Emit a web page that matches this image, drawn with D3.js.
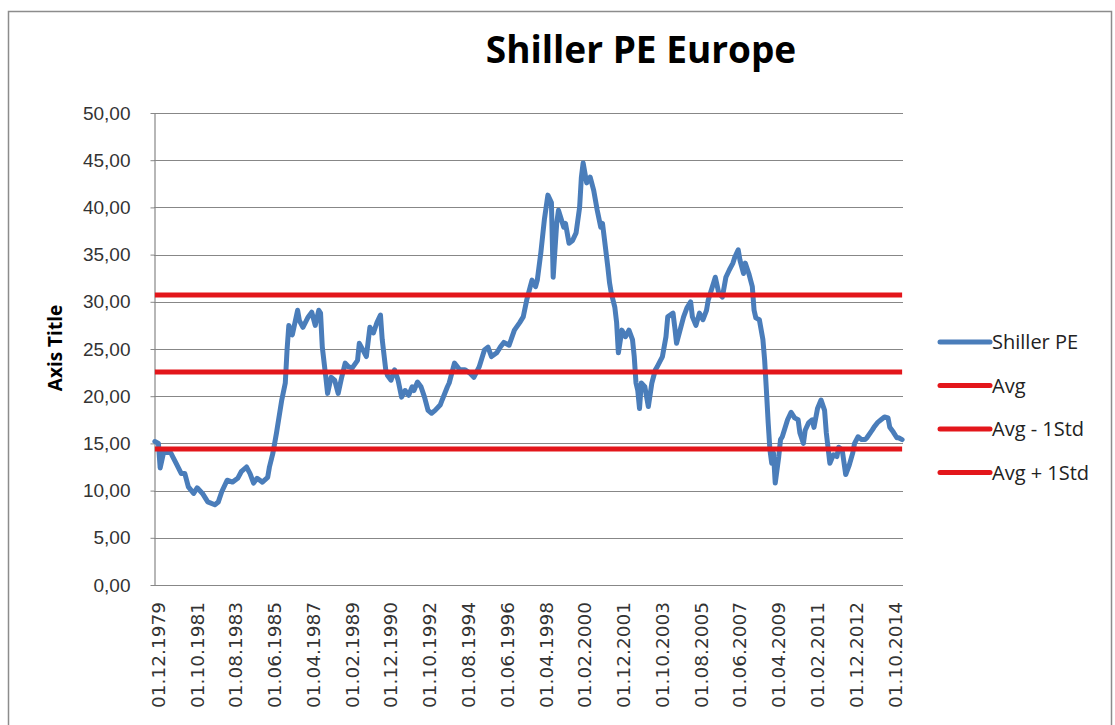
<!DOCTYPE html>
<html>

<head>
  <title>Shiller PE Europe</title>
  <script src="https://cdn.jsdelivr.net/npm/d3@7"></script>
  <style>
    body { margin: 0; background: #fff; }
    svg { display: block; }
  </style>
</head>

<body>
  <svg id="chart"></svg>

  <script>
    // Monthly readings of the Shiller PE (month.year)
    const dates = [
      "12.1979", "02.1980", "03.1980", "05.1980", "09.1980", "12.1980", "03.1981", "05.1981", "07.1981", "10.1981",
      "12.1981", "03.1982", "06.1982", "10.1982", "12.1982", "02.1983", "05.1983", "08.1983", "11.1983", "01.1984",
      "04.1984", "06.1984", "08.1984", "10.1984", "01.1985", "04.1985", "05.1985", "07.1985", "09.1985", "12.1985",
      "02.1986", "03.1986", "04.1986", "06.1986", "09.1986", "10.1986", "12.1986", "03.1987", "05.1987", "07.1987",
      "09.1987", "10.1987", "11.1987", "01.1988", "02.1988", "04.1988", "06.1988", "08.1988", "10.1988", "12.1988",
      "02.1989", "04.1989", "07.1989", "08.1989", "10.1989", "12.1989", "02.1990", "04.1990", "06.1990", "08.1990",
      "09.1990", "11.1990", "12.1990", "02.1991", "04.1991", "06.1991", "08.1991", "10.1991", "12.1991", "02.1992",
      "03.1992", "05.1992", "07.1992", "09.1992", "11.1992", "01.1993", "03.1993", "06.1993", "07.1993", "10.1993",
      "11.1993", "02.1994", "05.1994", "08.1994", "11.1994", "01.1995", "04.1995", "07.1995", "09.1995", "11.1995",
      "02.1996", "04.1996", "06.1996", "09.1996", "12.1996", "03.1997", "05.1997", "07.1997", "09.1997", "10.1997",
      "12.1997", "01.1998", "03.1998", "05.1998", "07.1998", "09.1998", "10.1998", "12.1998", "01.1999", "04.1999",
      "05.1999", "07.1999", "09.1999", "11.1999", "01.2000", "02.2000", "03.2000", "05.2000", "07.2000", "09.2000",
      "11.2000", "01.2001", "02.2001", "05.2001", "06.2001", "07.2001", "09.2001", "10.2001", "11.2001", "01.2002",
      "03.2002", "05.2002", "07.2002", "08.2002", "09.2002", "10.2002", "11.2002", "12.2002", "02.2003", "04.2003",
      "06.2003", "08.2003", "09.2003", "12.2003", "02.2004", "03.2004", "06.2004", "07.2004", "08.2004", "10.2004",
      "12.2004", "02.2005", "04.2005", "05.2005", "07.2005", "09.2005", "11.2005", "01.2006", "02.2006", "05.2006",
      "06.2006", "08.2006", "10.2006", "12.2006", "02.2007", "04.2007", "05.2007", "07.2007", "08.2007", "10.2007",
      "11.2007", "01.2008", "03.2008", "04.2008", "05.2008", "07.2008", "09.2008", "10.2008", "11.2008", "12.2008",
      "01.2009", "02.2009", "03.2009", "04.2009", "06.2009", "07.2009", "08.2009", "11.2009", "01.2010", "03.2010",
      "05.2010", "06.2010", "08.2010", "09.2010", "11.2010", "01.2011", "02.2011", "04.2011", "06.2011", "08.2011",
      "09.2011", "11.2011", "01.2012", "03.2012", "04.2012", "06.2012", "08.2012", "10.2012", "12.2012", "01.2013",
      "03.2013", "05.2013", "07.2013", "08.2013", "11.2013", "12.2013", "02.2014", "04.2014", "06.2014", "08.2014",
      "09.2014", "11.2014", "01.2015", "02.2015", "04.2015"
    ];

    const pe = [
      15.2, 15.0, 12.4, 14.1, 14.0, 12.9, 11.8, 11.8, 10.4, 9.7,
      10.3, 9.7, 8.8, 8.5, 8.8, 9.9, 11.1, 10.9, 11.3, 12.0,
      12.5, 11.8, 10.8, 11.3, 10.9, 11.4, 12.5, 14.0, 16.1, 19.6,
      21.4, 24.9, 27.5, 26.5, 29.1, 28.0, 27.3, 28.4, 28.9, 27.5,
      29.1, 28.8, 25.2, 22.0, 20.3, 22.0, 21.7, 20.3, 22.0, 23.5,
      23.1, 23.0, 23.8, 25.6, 24.9, 24.2, 27.3, 26.7, 27.8, 28.6,
      26.0, 22.8, 22.2, 21.7, 22.8, 21.7, 19.9, 20.6, 20.1, 21.0,
      20.6, 21.5, 21.0, 19.9, 18.5, 18.2, 18.5, 19.1, 19.6, 21.0,
      21.4, 23.5, 22.8, 22.8, 22.4, 22.0, 23.1, 24.9, 25.2, 24.2,
      24.6, 25.2, 25.7, 25.4, 27.0, 27.8, 28.4, 30.2, 31.6, 32.3,
      31.6, 32.3, 35.2, 38.7, 41.3, 40.5, 32.6, 38.3, 39.7, 37.9,
      38.3, 36.2, 36.5, 37.3, 40.0, 43.2, 44.7, 42.6, 43.2, 41.8,
      39.7, 37.9, 38.3, 33.7, 32.0, 30.9, 29.4, 27.8, 24.6, 27.0,
      26.3, 27.0, 26.0, 24.2, 21.4, 20.6, 18.7, 21.4, 21.0, 18.9,
      21.4, 22.8, 23.1, 24.2, 26.3, 28.4, 28.8, 27.3, 25.6, 27.0,
      28.4, 29.4, 30.0, 28.4, 27.5, 28.8, 28.1, 29.1, 30.2, 32.0,
      32.6, 30.9, 30.5, 32.6, 33.4, 34.1, 34.7, 35.5, 34.4, 33.0,
      34.1, 33.0, 31.6, 29.1, 28.3, 28.1, 26.0, 23.8, 20.6, 17.2,
      14.3, 12.9, 14.0, 10.8, 13.6, 15.4, 15.7, 17.5, 18.3, 17.7,
      17.5, 16.1, 15.0, 16.4, 17.2, 17.5, 16.7, 18.7, 19.6, 18.5,
      16.1, 12.9, 13.8, 13.6, 14.6, 14.3, 11.7, 12.7, 14.0, 15.0,
      15.7, 15.4, 15.4, 15.6, 16.4, 16.7, 17.2, 17.5, 17.8, 17.7,
      16.7, 16.2, 15.6, 15.6, 15.4
    ];

    // Horizontal reference levels
    const levelNames = ["Avg", "Avg - 1Std", "Avg + 1Std"];
    const levelValues = [22.56, 14.41, 30.72];

    // Category labels shown on the x axis
    const xLabels = [
      "01.12.1979", "01.10.1981", "01.08.1983", "01.06.1985", "01.04.1987",
      "01.02.1989", "01.12.1990", "01.10.1992", "01.08.1994", "01.06.1996",
      "01.04.1998", "01.02.2000", "01.12.2001", "01.10.2003", "01.08.2005",
      "01.06.2007", "01.04.2009", "01.02.2011", "01.12.2012", "01.10.2014"
    ];

    const yTicks = [0, 5, 10, 15, 20, 25, 30, 35, 40, 45, 50];

    const width = 1115;
    const height = 725;
    const plot = { left: 154, right: 903, top: 113, bottom: 585 };

    const blue = "#4a7dba";
    const red = "#e3161b";
    const grid = "#878787";

    // months since 12.1979
    const monthIndex = s => {
      const p = s.split(".").map(Number);
      const m = p.length === 3 ? p[1] : p[0];
      const y = p.length === 3 ? p[2] : p[1];
      return (y - 1979) * 12 + m - 12;
    };

    const data = dates.map((d, i) => ({ i: monthIndex(d), v: pe[i] }));
    const nMonths = d3.max(data, d => d.i) + 1;

    const x = d3.scaleLinear().domain([0, nMonths]).range([plot.left, plot.right]);
    const y = d3.scaleLinear().domain([0, 50]).range([plot.bottom, plot.top]);

    const fmt = d3.formatLocale({ decimal: ",", thousands: ".", grouping: [3], currency: ["", ""] }).format(".2f");

    const svg = d3.select("#chart")
      .attr("width", width)
      .attr("height", height)
      .style("font-family", "'DejaVu Sans', sans-serif");

    // chart frame
    svg.append("rect")
      .attr("x", 8.5).attr("y", 11.5)
      .attr("width", 1103).attr("height", 730)
      .attr("fill", "#fff")
      .attr("stroke", "#8c8c8c")
      .attr("stroke-width", 1.5);

    // title
    svg.append("text")
      .attr("x", 641).attr("y", 63)
      .attr("text-anchor", "middle")
      .style("font-family", "'Open Sans', sans-serif")
      .style("font-weight", "bold")
      .style("font-size", "37px")
      .attr("fill", "#000")
      .text("Shiller PE Europe");

    // gridlines
    svg.append("g")
      .selectAll("line")
      .data(yTicks.slice(1))
      .join("line")
      .attr("x1", plot.left).attr("x2", plot.right)
      .attr("y1", d => Math.round(y(d)) + 0.5)
      .attr("y2", d => Math.round(y(d)) + 0.5)
      .attr("stroke", grid)
      .attr("stroke-width", 1.2);

    // y axis
    const yAxis = svg.append("g")
      .attr("transform", `translate(${plot.left + 0.5},0)`)
      .call(d3.axisLeft(y).tickValues(yTicks).tickFormat(fmt).tickSizeInner(4).tickSizeOuter(0).tickPadding(20));
    yAxis.select(".domain").attr("stroke", grid).attr("stroke-width", 1.2);
    yAxis.selectAll(".tick line").attr("stroke", grid);
    yAxis.selectAll(".tick text")
      .style("font-size", "19px")
      .attr("fill", "#333");

    // x axis line
    svg.append("line")
      .attr("x1", plot.left).attr("x2", plot.right)
      .attr("y1", plot.bottom + 0.5).attr("y2", plot.bottom + 0.5)
      .attr("stroke", grid)
      .attr("stroke-width", 1.2);

    // x labels, rotated
    svg.append("g")
      .selectAll("text")
      .data(xLabels)
      .join("text")
      .attr("transform", d => `translate(${x(monthIndex(d) + 0.5) + 3.5},602) rotate(-90)`)
      .attr("text-anchor", "end")
      .attr("dy", "0.35em")
      .style("font-size", "18.5px")
      .attr("fill", "#333")
      .text(d => d);

    // axis title
    svg.append("text")
      .attr("transform", "translate(62,348) rotate(-90)")
      .attr("text-anchor", "middle")
      .style("font-family", "'Open Sans', sans-serif")
      .style("font-weight", "bold")
      .style("font-size", "19px")
      .attr("fill", "#000")
      .text("Axis Title");

    // Shiller PE line
    const line = d3.line()
      .x(d => x(d.i + 0.5))
      .y(d => y(d.v));

    svg.append("path")
      .datum(data)
      .attr("fill", "none")
      .attr("stroke", blue)
      .attr("stroke-width", 5)
      .attr("stroke-linejoin", "round")
      .attr("stroke-linecap", "round")
      .attr("d", line);

    // average and +/- 1 std lines
    svg.append("g")
      .selectAll("line")
      .data(levelValues)
      .join("line")
      .attr("x1", x(0.5)).attr("x2", x(nMonths - 0.5))
      .attr("y1", d => y(d)).attr("y2", d => y(d))
      .attr("stroke", red)
      .attr("stroke-width", 5);

    // legend
    const legendItems = [{ name: "Shiller PE", color: blue }]
      .concat(levelNames.map(n => ({ name: n, color: red })));

    const legend = svg.append("g")
      .selectAll("g")
      .data(legendItems)
      .join("g")
      .attr("transform", (d, i) => `translate(940,${342 + i * 43.5})`);

    legend.append("line")
      .attr("x1", 0).attr("x2", 50)
      .attr("stroke", d => d.color)
      .attr("stroke-width", 5)
      .attr("stroke-linecap", "round");

    legend.append("text")
      .attr("x", 52)
      .attr("dy", "0.36em")
      .style("font-family", "'Open Sans', sans-serif")
      .style("font-size", "20px")
      .attr("fill", "#222")
      .text(d => d.name);
  </script>
</body>

</html>
